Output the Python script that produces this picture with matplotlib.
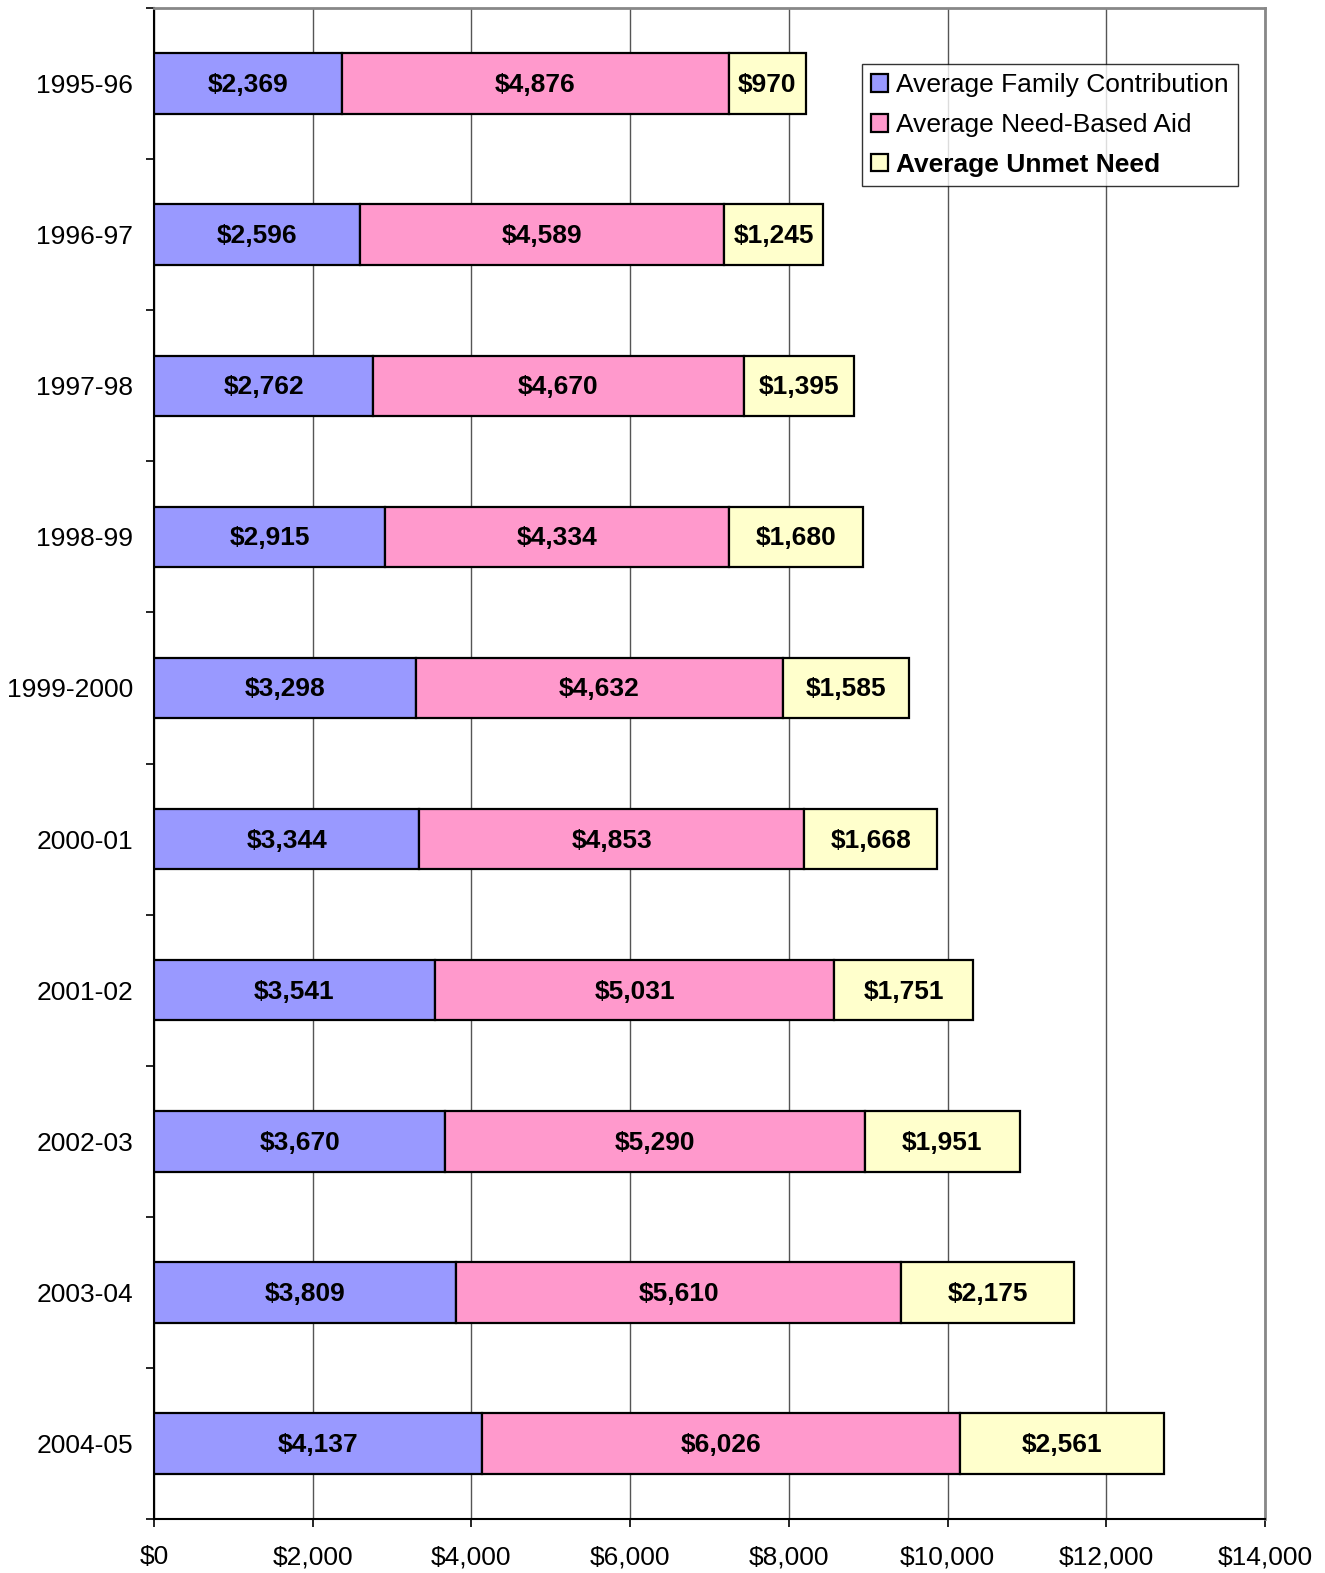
import numpy as np
import matplotlib.pyplot as plt
from matplotlib.patches import Patch

plt.rcParams['font.family'] = ['Liberation Sans', 'DejaVu Sans']

years = ['1995-96', '1996-97', '1997-98', '1998-99', '1999-2000',
         '2000-01', '2001-02', '2002-03', '2003-04', '2004-05']
family = [2369, 2596, 2762, 2915, 3298, 3344, 3541, 3670, 3809, 4137]
need_aid = [4876, 4589, 4670, 4334, 4632, 4853, 5031, 5290, 5610, 6026]
unmet = [970, 1245, 1395, 1680, 1585, 1668, 1751, 1951, 2175, 2561]

series = [
    ('Average Family Contribution', family, '#9999FF'),
    ('Average Need-Based Aid', need_aid, '#FF99CC'),
    ('Average Unmet Need', unmet, '#FFFFCC'),
]

fig = plt.figure(figsize=(13.25, 15.73), dpi=100)
ax = fig.add_axes([0.1162, 0.0343, 0.8385, 0.9606])

y = np.arange(len(years))
left = np.zeros(len(years))
for name, vals, color in series:
    vals = np.array(vals)
    ax.barh(y, vals, left=left, height=0.4, color=color,
            edgecolor='black', linewidth=1.6, label=name, zorder=3)
    for yi, l, v in zip(y, left, vals):
        ax.text(l + v / 2, yi + 0.01, f'${v:,}', ha='center', va='center',
                fontsize=19, fontweight='bold', zorder=4)
    left = left + vals

ax.set_xlim(0, 14000)
ax.set_ylim(len(years) - 0.5, -0.5)
ax.set_xticks(np.arange(0, 14001, 2000))
ax.set_xticklabels([f'${v:,}' for v in range(0, 14001, 2000)], fontsize=19)
ax.tick_params(axis='x', length=6, width=1.2, pad=13)

ax.set_yticks(y)
ax.set_yticklabels(years, fontsize=19)
ax.set_yticks(np.arange(-0.5, len(years), 1), minor=True)
ax.tick_params(axis='y', which='major', length=0, pad=15)
ax.tick_params(axis='y', which='minor', length=6, width=1.2)

ax.grid(axis='x', color='#555555', linewidth=1.0, zorder=0)
for s in ['left', 'bottom']:
    ax.spines[s].set_linewidth(1.5)
    ax.spines[s].set_color('black')
for s in ['top', 'right']:
    ax.spines[s].set_linewidth(2)
    ax.spines[s].set_color('#888888')

handles = [Patch(facecolor=c, edgecolor='black', linewidth=1.6) for _, _, c in series]
leg = ax.legend(handles, [n for n, _, _ in series], loc='upper right',
                bbox_to_anchor=(0.9757, 0.963), fontsize=19, frameon=True,
                fancybox=False, edgecolor='black', handlelength=0.65,
                handleheight=0.65, handletextpad=0.3, borderpad=0.35,
                labelspacing=0.6, borderaxespad=0)
leg.get_frame().set_linewidth(1.0)
leg.get_texts()[2].set_fontweight('bold')

fig.savefig('out.png', dpi=100)
